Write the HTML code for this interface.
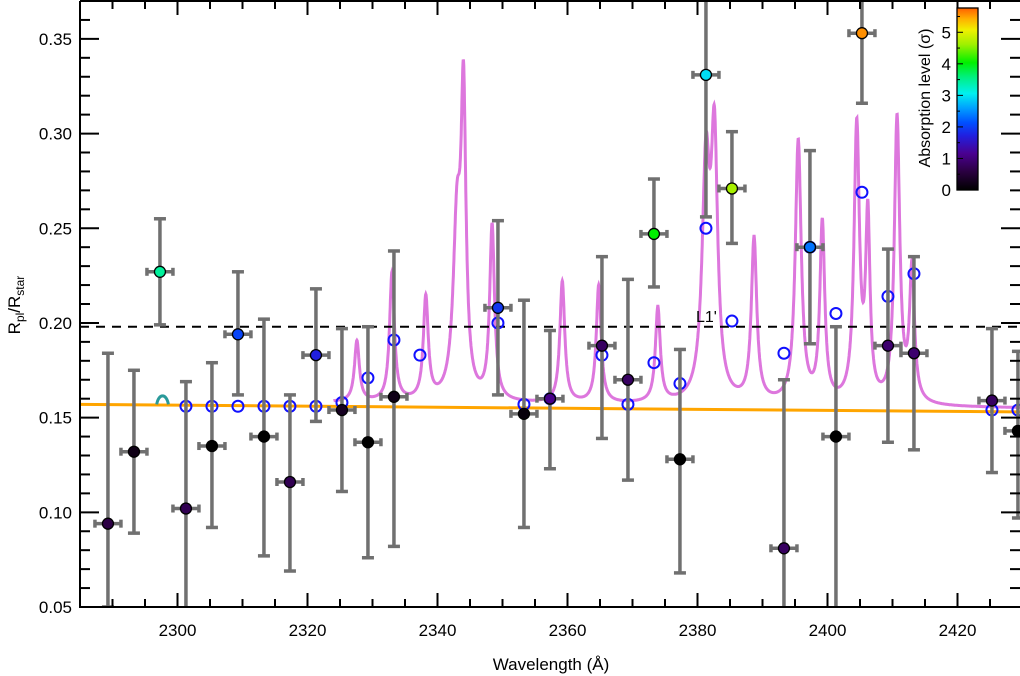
<!DOCTYPE html>
<html><head><meta charset="utf-8"><style>
html,body{margin:0;background:#fff;overflow:hidden;width:1020px;height:676px;}
svg{display:block;font-family:"Liberation Sans",sans-serif;}
</style></head><body>
<svg id="chart" width="1020" height="676" viewBox="0 0 1020 676" xmlns="http://www.w3.org/2000/svg">
<defs>
<linearGradient id="cbar" x1="0" y1="1" x2="0" y2="0">
<stop offset="0" stop-color="#000000"/>
<stop offset="0.1" stop-color="#2a0040"/>
<stop offset="0.2" stop-color="#4a0090"/>
<stop offset="0.3" stop-color="#2020e0"/>
<stop offset="0.37" stop-color="#0050ff"/>
<stop offset="0.45" stop-color="#00a0ff"/>
<stop offset="0.53" stop-color="#00f0f0"/>
<stop offset="0.62" stop-color="#00f080"/>
<stop offset="0.7" stop-color="#00f000"/>
<stop offset="0.8" stop-color="#a0f000"/>
<stop offset="0.88" stop-color="#f0f000"/>
<stop offset="0.94" stop-color="#ffb000"/>
<stop offset="1" stop-color="#ff6000"/>
</linearGradient>
</defs>
<g id="marks"></g>
<g id="axes"></g>
</svg>
<script>
const NS='http://www.w3.org/2000/svg';
// data
const wl=[2289.3,2293.3,2297.3,2301.3,2305.3,2309.3,2313.3,2317.3,2321.3,2325.3,2329.3,2333.3,2349.3,2353.3,2357.3,2365.3,2369.3,2373.3,2377.3,2381.3,2385.3,2393.3,2397.3,2401.3,2405.3,2409.3,2413.3,2425.3,2429.3];
const rp=[0.094,0.132,0.227,0.102,0.135,0.194,0.140,0.116,0.183,0.154,0.137,0.161,0.208,0.152,0.160,0.188,0.170,0.247,0.128,0.331,0.271,0.081,0.240,0.140,0.353,0.188,0.184,0.159,0.143];
const errLo=[0.044,0.043,0.028,0.067,0.043,0.032,0.063,0.047,0.035,0.043,0.061,0.079,0.046,0.060,0.037,0.049,0.053,0.028,0.060,0.075,0.029,0.090,0.051,0.100,0.037,0.051,0.051,0.038,0.046];
const errHi=[0.090,0.043,0.028,0.067,0.044,0.033,0.062,0.046,0.035,0.043,0.061,0.077,0.046,0.060,0.036,0.047,0.053,0.029,0.058,0.060,0.030,0.089,0.051,0.058,0.030,0.051,0.051,0.038,0.042];
const sigma=[0.6,0.2,3.4,0.7,0.0,2.0,0.0,0.7,1.7,0.3,0.0,0.2,1.9,0.1,1.1,0.8,0.8,4.0,0.0,2.9,4.6,0.8,2.3,0.0,5.5,0.9,0.9,0.8,0.0];
const modWl=[2301.3,2305.3,2309.3,2313.3,2317.3,2321.3,2325.3,2329.3,2333.3,2337.3,2349.3,2353.3,2357.3,2365.3,2369.3,2373.3,2377.3,2381.3,2385.3,2393.3,2397.3,2401.3,2405.3,2409.3,2413.3,2425.3,2429.3];
const modRp=[0.156,0.156,0.156,0.156,0.156,0.156,0.158,0.171,0.191,0.183,0.200,0.157,0.160,0.183,0.157,0.179,0.168,0.250,0.201,0.184,0.240,0.205,0.269,0.214,0.226,0.154,0.154];
const peakWl=[2327.6,2333.0,2338.2,2343.0,2344.0,2348.4,2359.2,2364.8,2373.9,2381.3,2382.6,2388.7,2395.5,2399.2,2404.5,2406.2,2410.7,2413.0];
const peakH=[0.032,0.068,0.054,0.09,0.15,0.092,0.064,0.062,0.050,0.12,0.13,0.086,0.138,0.094,0.145,0.095,0.150,0.070];
const peakW=[0.45,0.45,0.45,0.7,0.45,0.45,0.45,0.45,0.45,0.7,0.6,0.5,0.55,0.45,0.5,0.4,0.5,0.45];
const xTicks=[2300,2320,2340,2360,2380,2400,2420];
const yTicks=[0.05,0.10,0.15,0.20,0.25,0.30,0.35];
const cbTicks=[0,1,2,3,4,5];
const dashLevel=0.198;
const baseLeft=0.157, baseRight=0.153;

const X0=80,X1=1022.5,Y0=607,Y1=1,XMIN=2285,XMAX=2430,YMIN=0.05,YMAX=0.37;
const sx=v=>X0+(v-XMIN)/(XMAX-XMIN)*(X1-X0);
const sy=v=>Y0-(v-YMIN)/(YMAX-YMIN)*(Y0-Y1);
const base=w=>baseLeft+(baseRight-baseLeft)*(w-XMIN)/(XMAX-XMIN);
function mk(tag,attrs,parent){const e=document.createElementNS(NS,tag);for(const k in attrs)e.setAttribute(k,attrs[k]);parent.appendChild(e);return e;}
const stops=[[0,[0,0,0]],[0.57,[42,0,64]],[1.14,[74,0,144]],[1.71,[32,32,224]],[2.1,[0,80,255]],[2.56,[0,160,255]],[3.0,[0,240,240]],[3.53,[0,240,128]],[4.0,[0,240,0]],[4.56,[160,240,0]],[5.0,[240,240,0]],[5.36,[255,176,0]],[5.7,[255,96,0]]];
function cmap(s){for(let i=1;i<stops.length;i++){if(s<=stops[i][0]){const a=stops[i-1],b=stops[i],t=(s-a[0])/(b[0]-a[0]);return 'rgb('+a[1].map((c,j)=>Math.round(c+(b[1][j]-c)*t)).join(',')+')';}}return 'rgb(255,96,0)';}

const svg=document.getElementById('chart');
const marks=document.getElementById('marks');
const axes=document.getElementById('axes');
const clip=mk('clipPath',{id:'plotclip'},svg.querySelector('defs'));
mk('rect',{x:X0,y:Y1,width:X1-X0,height:Y0-Y1},clip);
const plot=mk('g',{'clip-path':'url(#plotclip)'},marks);



const ob=mk('line',{x1:X0,y1:sy(base(XMIN)),x2:X1,y2:sy(base(XMAX)),stroke:'#ffa500','stroke-width':3},plot);


const tb=mk('path',{d:`M${sx(2296.8)},${sy(0.157)} C${sx(2297.1)},${sy(0.163)} ${sx(2298.3)},${sy(0.163)} ${sx(2298.6)},${sy(0.157)}`,stroke:'#2a9a9a',fill:'none','stroke-width':3},plot);


let d='';
for(let w=2324;w<=2430;w+=0.04){let v=0;for(let i=0;i<peakWl.length;i++){const u=(w-peakWl[i])/peakW[i];v+=peakH[i]/(1+u*u);}const y=base(w)+0.002+v;d+=(d?'L':'M')+sx(w).toFixed(1)+','+sy(y).toFixed(1);}
const mc=mk('path',{d:d,fill:'none',stroke:'#dd77dd','stroke-width':3},plot);


const dl=mk('line',{x1:X0,x2:X1,y1:sy(dashLevel),y2:sy(dashLevel),stroke:'#000','stroke-width':2,'stroke-dasharray':'9,7'},plot);


const lt=mk('text',{x:696,y:322,'font-size':16,fill:'#000'},plot);lt.textContent="L1'";


modWl.forEach((w,i)=>{const c=mk('circle',{cx:sx(w),cy:sy(modRp[i]),r:5.5,fill:'none',stroke:'#1010ff','stroke-width':2},plot);

});
wl.forEach((w,i)=>{const g=mk('g',{},plot);


const x=sx(w),y=sy(rp[i]),yl=sy(rp[i]-errLo[i]),yh=sy(rp[i]+errHi[i]);const st={stroke:'#707070','stroke-width':3.5};
mk('line',Object.assign({x1:x,x2:x,y1:yl,y2:yh},st),g);
mk('line',Object.assign({x1:x-6,x2:x+6,y1:yl,y2:yl},st),g);
mk('line',Object.assign({x1:x-6,x2:x+6,y1:yh,y2:yh},st),g);
mk('line',Object.assign({x1:x-13,x2:x+13,y1:y,y2:y},st),g);
mk('line',Object.assign({x1:x-13,x2:x-13,y1:y-4,y2:y+4},st),g);
mk('line',Object.assign({x1:x+13,x2:x+13,y1:y-4,y2:y+4},st),g);
mk('circle',{cx:x,cy:y,r:5.5,fill:cmap(sigma[i]),stroke:'#000','stroke-width':1.3},g);});

const fr=mk('path',{d:`M${X0},${Y1} L${X0},${Y0} L1020,${Y0} M${X0},${Y1} L1020,${Y1}`,stroke:'#000','stroke-width':2,fill:'none'},axes);


for(let v=2285;v<=2430;v+=5){const x=sx(v);const maj=v%20===0;const L=maj?14:8;
mk('line',{x1:x,x2:x,y1:Y0,y2:Y0-L,stroke:'#000','stroke-width':2},axes);
mk('line',{x1:x,x2:x,y1:Y1,y2:Y1+L,stroke:'#000','stroke-width':2},axes);}
xTicks.forEach(v=>{const t=mk('text',{x:sx(v),y:636,'font-size':17,'text-anchor':'middle'},axes);t.textContent=v;

});
for(let k=5;k<=37;k++){const v=k/100;const y=sy(v);const maj=k%5===0;const L=maj?19:10;
mk('line',{x1:X0,x2:X0+L,y1:y,y2:y,stroke:'#000','stroke-width':2},axes);
mk('line',{x1:1020,x2:1020-L,y1:y,y2:y,stroke:'#000','stroke-width':2},axes);}
yTicks.forEach(v=>{const t=mk('text',{x:72,y:sy(v)+6,'font-size':17,'text-anchor':'end'},axes);t.textContent=v.toFixed(2);

});
const xt=mk('text',{x:551,y:670,'font-size':17,'text-anchor':'middle'},axes);xt.textContent='Wavelength (Å)';


const yt=mk('text',{transform:'translate(20,305) rotate(-90)','font-size':17,'text-anchor':'middle'},axes);
yt.innerHTML='R<tspan font-size="12" dy="4">pl</tspan><tspan dy="-4">/R</tspan><tspan font-size="12" dy="4">star</tspan>';



const CB0=190,CB1=8,CBMAX=5.77;const cy=s=>CB0-s/CBMAX*(CB0-CB1);
const cbg=mk('g',{},axes);


mk('rect',{x:957,y:CB1,width:21,height:CB0-CB1,fill:'url(#cbar)',stroke:'#000','stroke-width':1.3},cbg);
for(let s=0;s<=5.5;s+=0.5){mk('line',{x1:957,x2:s%1===0?963:960,y1:cy(s),y2:cy(s),stroke:'#000','stroke-width':1},cbg);}
cbTicks.forEach(s=>{const t=mk('text',{x:951,y:cy(s)+6,'font-size':17,'text-anchor':'end'},cbg);t.textContent=s;

});
const cbt=mk('text',{transform:'translate(930,98) rotate(-90)','font-size':16,'text-anchor':'middle'},cbg);cbt.textContent='Absorption level (σ)';


</script>
</body></html>
